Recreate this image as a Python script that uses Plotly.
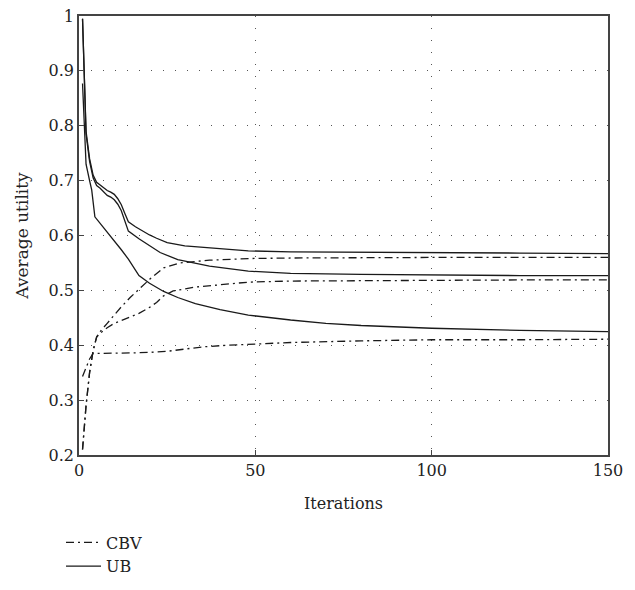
import plotly.graph_objects as go

# ---- data ----
ub1_x = [1, 2, 3, 4, 5, 6, 8, 9, 10, 11, 12, 13, 14, 16, 18, 20, 22, 25, 30, 37, 48, 60, 80, 100, 125, 150]
ub1_y = [0.995, 0.79, 0.74, 0.71, 0.697, 0.692, 0.682, 0.679, 0.675, 0.667, 0.656, 0.640, 0.625, 0.616, 0.608, 0.601, 0.595, 0.587, 0.581, 0.577, 0.572, 0.570, 0.569, 0.568, 0.568, 0.567]

ub2_x = [1, 2, 3, 4, 5, 6, 8, 9, 10, 11, 12, 13, 14, 17, 20, 23, 28, 33, 37, 48, 60, 80, 100, 125, 150]
ub2_y = [0.995, 0.785, 0.735, 0.705, 0.691, 0.686, 0.673, 0.670, 0.665, 0.657, 0.645, 0.625, 0.608, 0.594, 0.582, 0.569, 0.556, 0.549, 0.544, 0.535, 0.531, 0.529, 0.528, 0.527, 0.527]

ub3_x = [1, 2, 3, 3.6, 4.5, 6, 8, 10, 12, 14, 17, 20, 24, 28, 33, 40, 48, 60, 70, 80, 100, 125, 150]
ub3_y = [0.877, 0.73, 0.70, 0.683, 0.634, 0.622, 0.607, 0.592, 0.574, 0.557, 0.527, 0.513, 0.498, 0.487, 0.476, 0.465, 0.455, 0.446, 0.440, 0.436, 0.431, 0.427, 0.425]

cbv1_x = [1, 2, 3, 4, 5, 6, 8, 10, 12, 14.5, 17, 20, 24, 28.6, 37, 48, 60, 80, 100, 125, 150]
cbv1_y = [0.21, 0.29, 0.35, 0.39, 0.415, 0.425, 0.440, 0.456, 0.470, 0.487, 0.502, 0.520, 0.541, 0.550, 0.555, 0.558, 0.559, 0.560, 0.560, 0.560, 0.560]

cbv2_x = [1, 2, 3, 4, 5, 6, 8, 10, 12, 14.5, 17, 20, 22, 24, 26.7, 33, 40, 48, 60, 80, 100, 125, 150]
cbv2_y = [0.21, 0.29, 0.35, 0.39, 0.415, 0.422, 0.432, 0.440, 0.445, 0.451, 0.458, 0.469, 0.478, 0.490, 0.499, 0.506, 0.510, 0.515, 0.517, 0.518, 0.519, 0.519, 0.519]

cbv3_x = [1, 2, 3, 4, 5, 10, 15, 20, 25, 30, 35, 42, 50, 60, 80, 100, 125, 150]
cbv3_y = [0.343, 0.360, 0.375, 0.385, 0.385, 0.385, 0.386, 0.387, 0.389, 0.393, 0.397, 0.400, 0.402, 0.405, 0.408, 0.410, 0.410, 0.411]

x_ticks = [0, 50, 100, 150]
y_ticks = [0.2, 0.3, 0.4, 0.5, 0.6, 0.7, 0.8, 0.9, 1.0]
y_tick_text = ["0.2", "0.3", "0.4", "0.5", "0.6", "0.7", "0.8", "0.9", "1"]

FONT = "DejaVu Serif, Liberation Serif, serif"
TEXT_COLOR = "#222"
LINE_COLOR = "#1a1a1a"
DASHDOT = "8px,4px,2px,4px"

fig = go.Figure()

cbv_series = [(cbv1_x, cbv1_y), (cbv2_x, cbv2_y), (cbv3_x, cbv3_y)]
ub_series = [(ub1_x, ub1_y), (ub2_x, ub2_y), (ub3_x, ub3_y)]

for i, (xs, ys) in enumerate(cbv_series):
    fig.add_trace(go.Scatter(x=xs, y=ys, mode="lines", name="CBV", legendgroup="CBV",
                             showlegend=(i == 0),
                             line=dict(color=LINE_COLOR, width=1.3, dash=DASHDOT)))
for i, (xs, ys) in enumerate(ub_series):
    fig.add_trace(go.Scatter(x=xs, y=ys, mode="lines", name="UB", legendgroup="UB",
                             showlegend=(i == 0),
                             line=dict(color=LINE_COLOR, width=1.3)))

axis_common = dict(
    automargin=False,
    showline=True, mirror=True, linecolor="#444", linewidth=1.5,
    ticks="inside", ticklen=5, tickcolor="#444",
    showgrid=True, gridcolor="#555", gridwidth=1, griddash="1px,11px",
    zeroline=False,
    ticklabeloverflow="allow",
    tickfont=dict(family=FONT, size=16, color=TEXT_COLOR),
)

fig.update_xaxes(range=[0, 150], tickvals=x_ticks, ticktext=[str(v) for v in x_ticks],
                 title=dict(text="Iterations", font=dict(family=FONT, size=16, color=TEXT_COLOR), standoff=19),
                 **axis_common)
fig.update_yaxes(range=[0.2, 1.0], tickvals=y_ticks, ticktext=y_tick_text,
                 title=dict(text="Average utility", font=dict(family=FONT, size=17, color=TEXT_COLOR), standoff=16),
                 **axis_common)

# page body has an 8px margin; the figure is sized/offset to compensate
fig.update_layout(
    width=627, height=582,
    margin=dict(l=71, r=27, t=8, b=134),
    plot_bgcolor="white", paper_bgcolor="white",
    font=dict(family=FONT, size=16, color=TEXT_COLOR),
    legend=dict(x=-0.034, y=-0.158, xanchor="left", yanchor="top",
                orientation="v", itemwidth=35, tracegroupgap=0,
                font=dict(family=FONT, size=16, color=TEXT_COLOR),
                bgcolor="rgba(0,0,0,0)"),
    showlegend=True,
)

fig.write_html("out.html")
